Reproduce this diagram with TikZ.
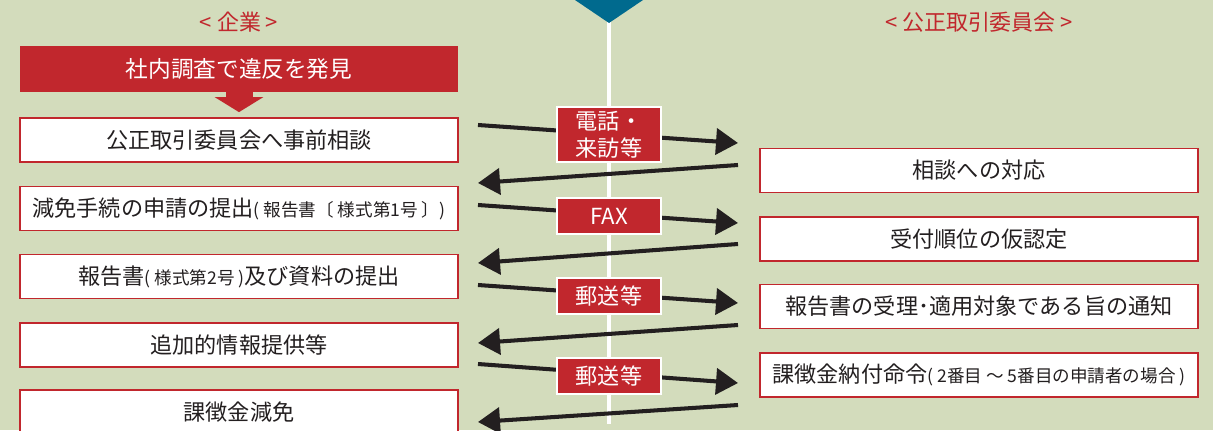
\documentclass[tikz,border=0pt]{standalone}
\usepackage{fontspec}
\setmainfont{Noto Sans CJK JP}
\usetikzlibrary{arrows.meta}
\definecolor{jftcRed}{RGB}{193, 39, 45}
\definecolor{jftcGreen}{RGB}{211, 220, 188}
\definecolor{jftcBlue}{RGB}{0, 106, 142}
\definecolor{jftcText}{RGB}{35, 31, 32}
\newcommand{\smalltext}[1]{{\fontsize{10pt}{12pt}\selectfont #1}}

\tikzset{
  stepbox/.style={draw=jftcRed, line width=1pt, fill=white, text=jftcText, minimum width=8.76cm, minimum height=0.88cm, inner sep=0pt, font=\fontsize{12.6pt}{15pt}\selectfont},
  media/.style={draw=white, line width=1.2pt, fill=jftcRed, text=white, minimum width=2.08cm, minimum height=0.72cm, inner sep=0pt, align=center, font=\fontsize{12.6pt}{15.5pt}\selectfont},
  header/.style={text=jftcRed, font=\fontsize{12.5pt}{15pt}\selectfont},
  flow/.style={-{Triangle[length=0.44cm, width=0.52cm]}, line width=2.3pt, jftcText}
}

\begin{document}
\begin{tikzpicture}[x=0.02cm, y=-0.02cm]
            % Background
            \clip (0,0) rectangle (1213,430);
            \fill[jftcGreen] (0,0) rectangle (1213,430);

            % Headers
            \node[header] (hdrCorp) at (239,22) {< 企業 >};
            \node[header] (hdrJftc) at (979,22) {< 公正取引委員会 >};

            % Time line
            \draw[white, line width=2.3pt] (609,20) -- (609,424);
            \fill[jftcBlue] (575,0) -- (643,0) -- (609,23) -- cycle;

            % Corporation side
            \node[fill=jftcRed, text=white, minimum width=8.76cm, minimum height=0.92cm, inner sep=0pt, font=\fontsize{12.9pt}{15pt}\selectfont] (found) at (239,69) {社内調査で違反を発見};
            \node[stepbox] (c1) at (239,140) {公正取引委員会へ事前相談};
            \node[stepbox] (c2) at (239,208.5) {減免手続の申請の提出\smalltext{( 報告書〔 様式第1号 〕)}};
            \node[stepbox] (c3) at (239,276.5) {報告書\smalltext{( 様式第2号 )}及び資料の提出};
            \node[stepbox] (c4) at (239,345) {追加的情報提供等};
            \node[stepbox] (c5) at (239,412) {課徴金減免};
            \draw[jftcRed, line width=0.54cm, -{Triangle[length=0.3cm, width=0.96cm]}, shorten >=0.1cm] (found.south) -- (c1.north);

            % Commission side
            \node[stepbox] (j1) at (979,170.5) {相談への対応};
            \node[stepbox] (j2) at (979,239) {受付順位の仮認定};
            \node[stepbox] (j3) at (979,306.5) {報告書の受理･適用対象である旨の通知};
            \node[stepbox] (j4) at (979,375) {課徴金納付命令\smalltext{( 2番目 ～ 5番目の申請者の場合 )}};

            % Arrows
            \foreach \i/\ya/\yb/\yc/\yd in {1/125/143/165/183, 2/205/223/244/263, 3/285/303/325/343, 4/364/383/405/422} {
              \coordinate (out\i) at (478,\ya);
              \coordinate (in\i) at (738,\yb);
              \coordinate (back\i) at (738,\yc);
              \coordinate (reply\i) at (478,\yd);
              \draw[flow] (out\i) -- (in\i);
              \draw[flow] (back\i) -- (reply\i);
            }

            % Means of contact
            \node[media, minimum height=1.1cm] (m1) at (609,134.5) {電話・\\来訪等};
            \node[media] (m2) at (609,216) {FAX};
            \node[media] (m3) at (609,296) {郵送等};
            \node[media] (m4) at (609,376) {郵送等};
        \end{tikzpicture}
\end{document}
